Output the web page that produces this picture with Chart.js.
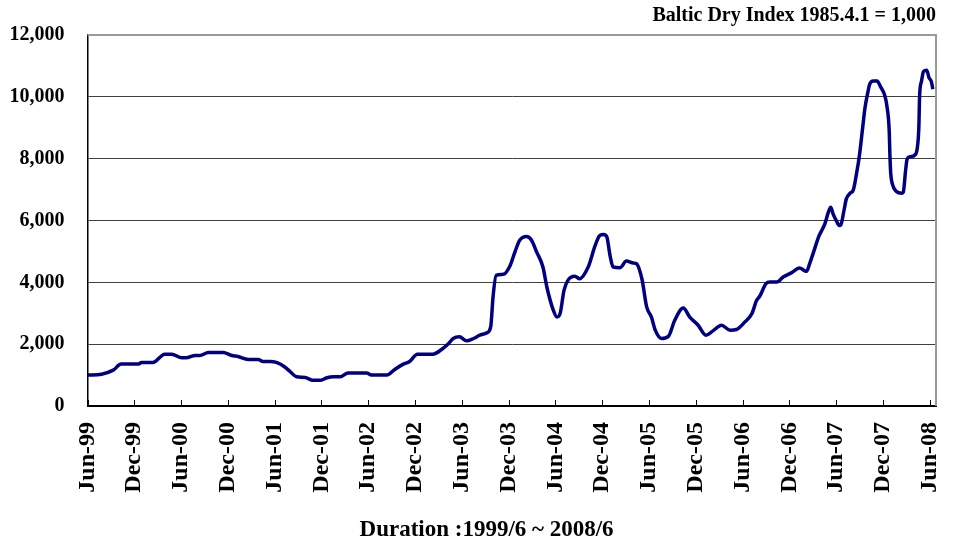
<!DOCTYPE html>
<html>
<head>
<meta charset="utf-8">
<title>Baltic Dry Index</title>
<script src="https://cdn.jsdelivr.net/npm/chart.js@4.4.1/dist/chart.umd.min.js"></script>
<style>
    html, body { margin: 0; padding: 0; background: #fff; }
    #wrap { width: 955px; height: 542px; }
</style>
</head>
<body>
<div id="wrap"><canvas id="bdiChart"></canvas></div>
<script>
// Months counted from Jun-1999 (0) to Jun-2008 (108)
const months = [
    0, 1.8, 3.3, 4.3, 6.5, 6.95, 8.4, 9.9, 10.8, 12.1, 12.9, 13.8, 14.4, 15.5, 17.4, 18.5,
    19.3, 20.6, 21.9, 22.5, 23.4, 24.3, 25.3, 26.0, 26.8, 27.9, 28.9, 29.8, 30.7, 31.5,
    32.4, 33.4, 35.8, 36.4, 38.4, 39.4, 40.5, 41.3, 42.3, 44.3, 45.4, 46.3, 46.9, 47.7,
    48.6, 49.5, 50.3, 51.2, 51.7, 52.0, 52.4, 53.3, 54.2, 54.8, 55.4, 56.3, 56.9, 57.6,
    58.4, 58.9, 59.7, 60.2, 60.6, 61.1, 61.6, 62.5, 63.1, 64.2, 65.1, 65.7, 66.2, 66.6,
    67.0, 67.4, 68.3, 69.1, 70.0, 70.4, 71.1, 71.7, 72.3, 72.8, 73.6, 74.5, 75.3, 76.4,
    77.2, 78.3, 79.3, 80.2, 81.3, 82.4, 83.2, 84.3, 85.2, 85.8, 86.2, 87.0, 87.5, 88.4,
    89.2, 90.3, 91.3, 92.2, 92.6, 93.1, 93.8, 94.55, 95.0, 95.3, 95.6, 96.05, 96.4, 96.6,
    97.0, 97.3, 97.8, 98.2, 98.6, 98.95, 99.4, 99.7, 100.1, 100.3, 100.75, 101.25, 101.7,
    102.2, 102.5, 102.8, 102.9, 103.0, 103.2, 103.7, 104.4, 104.6, 104.9, 105.1, 105.5,
    106.1, 106.4, 106.6, 106.7, 106.95, 107.2, 107.6, 107.9, 108.2, 108.4
];
const bdiValues = [
    1000, 1030, 1160, 1355, 1355, 1410, 1410, 1677, 1677, 1560, 1570, 1635, 1635, 1730, 1730, 1635,
    1600, 1505, 1505, 1440, 1440, 1400, 1260, 1108, 945, 925, 830, 830, 915, 945,
    945, 1065, 1065, 1000, 1000, 1183, 1355, 1440, 1677, 1677, 1828, 2022, 2183, 2236,
    2107, 2183, 2290, 2365, 2558, 3526, 4226, 4258, 4548, 4978, 5355, 5484, 5377, 4978,
    4494, 3849, 3119, 2881, 2990, 3742, 4065, 4194, 4119, 4494, 5194, 5516, 5548, 5462,
    4871, 4494, 4474, 4687, 4623, 4600, 4100, 3204, 2881, 2452, 2183, 2258, 2774, 3171,
    2881, 2613, 2290, 2430, 2613, 2452, 2474, 2720, 2990, 3420, 3549, 3958, 4010, 4010,
    4172, 4313, 4462, 4355, 4603, 4978, 5500, 5893, 6268, 6430, 6215, 5978, 5839, 5860,
    6323, 6700, 6882, 6990, 7506, 8043, 9010, 9655, 10194, 10410, 10516, 10516, 10323,
    10065, 9710, 8903, 8043, 7506, 7184, 6946, 6882, 6914, 7613, 7990, 8065,
    8120, 8345, 9010, 10032, 10516, 10817, 10862, 10623, 10494, 10248
];
const tickLabels = [
    'Jun-99', 'Dec-99', 'Jun-00', 'Dec-00', 'Jun-01', 'Dec-01', 'Jun-02', 'Dec-02', 'Jun-03',
    'Dec-03', 'Jun-04', 'Dec-04', 'Jun-05', 'Dec-05', 'Jun-06', 'Dec-06', 'Jun-07', 'Dec-07', 'Jun-08'
];
const durationText = 'Duration :1999/6 ~ 2008/6';

const serif = "'Liberation Serif', 'Times New Roman', serif";

// Tick marks pointing into the plot + grey top/right frame
const plotFrame = {
    id: 'plotFrame',
    beforeDatasetsDraw(chart) {
        const { ctx, chartArea, scales: { x } } = chart;
        ctx.save();
        ctx.strokeStyle = '#000';
        ctx.lineWidth = 1;
        x.ticks.forEach(t => {
            const px = Math.round(x.getPixelForValue(t.value)) + 0.5;
            ctx.beginPath();
            ctx.moveTo(px, chartArea.bottom);
            ctx.lineTo(px, chartArea.bottom - 6);
            ctx.stroke();
        });
        ctx.strokeStyle = '#999';
        ctx.lineWidth = 2;
        ctx.beginPath();
        ctx.moveTo(chartArea.left, chartArea.top);
        ctx.lineTo(chartArea.right, chartArea.top);
        ctx.lineTo(chartArea.right, chartArea.bottom);
        ctx.stroke();
        ctx.restore();
    },
    // caption under the axis, centred a bit left of the plot centre like the source
    afterDraw(chart) {
        const { ctx } = chart;
        ctx.save();
        ctx.fillStyle = '#000';
        ctx.font = 'bold 23px ' + serif;
        ctx.textAlign = 'center';
        ctx.textBaseline = 'middle';
        ctx.fillText(durationText, chart.width * 0.5095, 530);
        ctx.restore();
    }
};

const ctx = document.getElementById('bdiChart').getContext('2d');
new Chart(ctx, {
    type: 'line',
    data: {
        datasets: [{
            label: 'BDI',
            data: months.map((m, i) => ({ x: m, y: bdiValues[i] })),
            borderColor: '#000080',
            borderWidth: 3.5,
            pointRadius: 0,
            cubicInterpolationMode: 'monotone',
            fill: false
        }]
    },
    options: {
        responsive: true,
        maintainAspectRatio: false,
        animation: false,
        layout: { padding: { left: 5, right: 19, top: 0, bottom: 0 } },
        plugins: {
            legend: { display: false },
            tooltip: { enabled: false },
            title: {
                display: true,
                text: 'Baltic Dry Index 1985.4.1 = 1,000',
                align: 'end',
                color: '#000',
                font: { family: serif, size: 20, weight: 'bold' },
                padding: { top: 3, bottom: 7 }
            }
        },
        scales: {
            x: {
                type: 'linear',
                min: 0,
                max: 108.8,
                afterFit(scale) {
                    scale.height = 136;
                    scale.paddingLeft = 0;
                    scale.paddingRight = 0;
                },
                grid: { display: true, drawOnChartArea: false, drawTicks: false },
                border: { display: true, color: '#000', width: 2 },
                ticks: {
                    stepSize: 6,
                    includeBounds: false,
                    autoSkip: false,
                    minRotation: 90,
                    maxRotation: 90,
                    padding: 16,
                    color: '#000',
                    font: { family: serif, size: 24, weight: 'bold' },
                    callback: (value) => tickLabels[Math.round(value / 6)]
                }
            },
            y: {
                min: 0,
                max: 12000,
                afterFit(scale) { scale.width = 82.5; },
                grid: {
                    drawTicks: false,
                    color: (c) => (c.tick && (c.tick.value === 12000 || c.tick.value === 0)) ? 'rgba(0,0,0,0)' : '#404040',
                    lineWidth: 1
                },
                border: { display: true, color: '#000', width: 1.5 },
                ticks: {
                    stepSize: 2000,
                    padding: 23,
                    color: '#000',
                    font: { family: serif, size: 20, weight: 'bold' },
                    callback: (value) => value.toLocaleString('en-US')
                }
            }
        }
    },
    plugins: [plotFrame]
});
</script>
</body>
</html>
